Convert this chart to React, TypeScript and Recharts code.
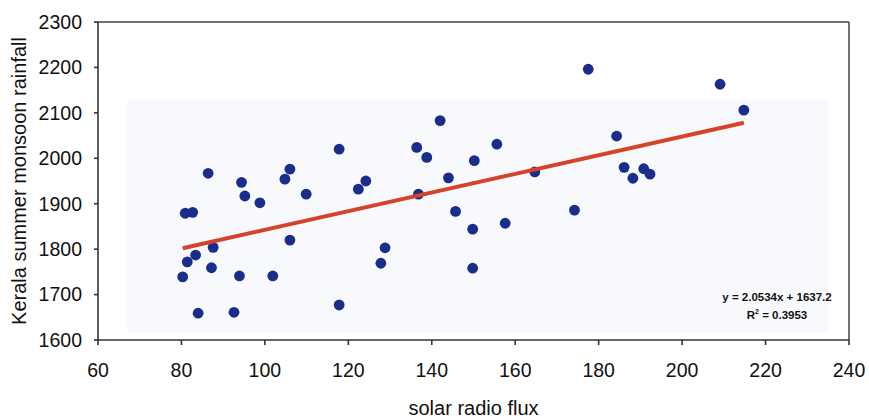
import React from 'react';
import {
    ScatterChart,
    Scatter,
    XAxis,
    YAxis,
    ReferenceLine,
    ReferenceArea
} from 'recharts';

// solar radio flux (x) and Kerala summer monsoon rainfall (y)
const solarFlux = [
    80.3, 80.9, 82.7, 81.4, 83.4, 84.0, 86.4, 87.2, 87.6, 92.6,
    93.9, 94.4, 95.2, 98.8, 101.9, 104.8, 106.0, 106.0, 109.9, 117.8,
    117.8, 122.4, 124.2, 127.8, 128.8, 136.4, 136.8, 138.8, 142.0, 144.0,
    145.7, 149.8, 149.8, 150.2, 155.6, 157.6, 164.7, 174.2, 177.5, 184.3,
    186.1, 188.2, 190.8, 192.3, 209.1, 214.8,
];
const rainfall = [
    1739, 1879, 1881, 1772, 1787, 1659, 1967, 1759, 1804, 1661,
    1741, 1947, 1917, 1902, 1741, 1954, 1976, 1820, 1921, 2020,
    1677, 1932, 1950, 1769, 1803, 2024, 1921, 2002, 2083, 1957,
    1883, 1844, 1758, 1995, 2031, 1857, 1970, 1886, 2196, 2049,
    1980, 1956, 1977, 1965, 2163, 2106,
];

const xTicks = [60, 80, 100, 120, 140, 160, 180, 200, 220, 240];
const yTicks = [1600, 1700, 1800, 1900, 2000, 2100, 2200, 2300];

// trendline from the printed equation
const slope = 2.0534;
const intercept = 1637.2;
const rSquared = '0.3953';

const points = solarFlux.map((x, i) => ({ x, y: rainfall[i] }));
const xMin = Math.min(...solarFlux);
const xMax = Math.max(...solarFlux);
const trend = [
    { x: xMin, y: slope * xMin + intercept },
    { x: xMax, y: slope * xMax + intercept },
];

const font = '"Liberation Sans", Arial, sans-serif';
const axisColor = '#333';

const Dot = (props: any) => (
    <circle cx={props.cx} cy={props.cy} r={5.4} fill="#1b2d8a" />
);

export default function App() {
    return (
        <div style={{ position: 'absolute', left: 0, top: 0, width: 869, height: 419, background: '#fff', fontFamily: font }}>
            <ScatterChart
                width={869}
                height={419}
                margin={{ top: 22, right: 20, bottom: 0, left: 0 }}
            >
                {/* faint scan tint behind the points */}
                <ReferenceArea x1={67} x2={235} y1={1615} y2={2130} fill="#f8f9fc" fillOpacity={1} stroke="none" />
                <XAxis
                    type="number"
                    dataKey="x"
                    domain={[60, 240]}
                    ticks={xTicks}
                    height={79}
                    tickSize={5}
                    tickMargin={18}
                    stroke={axisColor}
                    strokeWidth={1.6}
                    tick={{ fill: '#111', fontSize: 19.5, fontFamily: font }}
                    label={{ value: 'solar radio flux', position: 'insideBottom', offset: 4, fill: '#111', fontSize: 20, fontFamily: font }}
                />
                <YAxis
                    type="number"
                    dataKey="y"
                    domain={[1600, 2300]}
                    ticks={yTicks}
                    width={98}
                    tickSize={4}
                    tickMargin={12}
                    stroke={axisColor}
                    strokeWidth={1.6}
                    tick={{ fill: '#111', fontSize: 19.5, fontFamily: font }}
                    label={{ value: 'Kerala summer monsoon rainfall', angle: -90, position: 'insideLeft', offset: 19, fill: '#111', fontSize: 20, fontFamily: font, style: { textAnchor: 'middle' } }}
                />
                <ReferenceLine y={2300} stroke="#444" strokeWidth={1.5} />
                <ReferenceLine x={240} stroke="#444" strokeWidth={1.5} />
                <Scatter data={points} shape={Dot} isAnimationActive={false} />
                <Scatter
                    data={trend}
                    line={{ stroke: '#d5432a', strokeWidth: 4 }}
                    shape={() => null}
                    isAnimationActive={false}
                />
            </ScatterChart>
            <div style={{ position: 'absolute', left: 700, top: 288, width: 154, textAlign: 'center', fontSize: 11.5, fontWeight: 'bold', color: '#111', lineHeight: '18px' }}>
                <div>y = {slope}x + {intercept}</div>
                <div>R<sup style={{ fontSize: 7, lineHeight: 0 }}>2</sup> = {rSquared}</div>
            </div>
        </div>
    );
}
